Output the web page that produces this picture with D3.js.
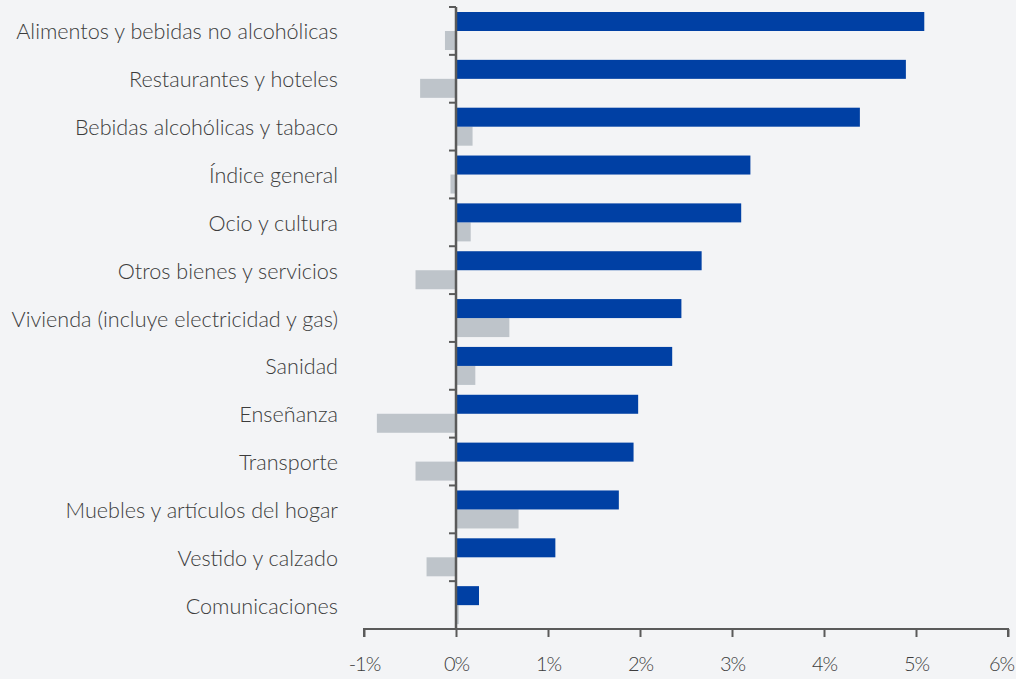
<!DOCTYPE html>
<html>
<head>
<meta charset="utf-8">
<script src="https://cdn.jsdelivr.net/npm/d3@7"></script>
<style>
  body { margin: 0; background: #f3f4f6; }
  svg { display: block; }
  text { font-family: Lato, "Open Sans", sans-serif; font-weight: 300; fill: #3c3c3c; }
</style>
</head>
<body>
<div id="chart"></div>
<script>
const categories = [
  "Alimentos y bebidas no alcohólicas",
  "Restaurantes y hoteles",
  "Bebidas alcohólicas y tabaco",
  "Índice general",
  "Ocio y cultura",
  "Otros bienes y servicios ",
  "Vivienda (incluye electricidad y gas)",
  "Sanidad",
  "Enseñanza",
  "Transporte",
  "Muebles y artículos del hogar",
  "Vestido y calzado",
  "Comunicaciones"
];
const serieAzul = [5.09, 4.89, 4.39, 3.20, 3.10, 2.67, 2.45, 2.35, 1.98, 1.93, 1.77, 1.08, 0.25];
const serieGris = [-0.12, -0.39, 0.18, -0.06, 0.16, -0.44, 0.58, 0.21, -0.86, -0.44, 0.68, -0.32, 0.03];
const xTicks = [-1, 0, 1, 2, 3, 4, 5, 6];

const width = 1016, height = 679;
const svg = d3.select("#chart").append("svg")
  .attr("width", width)
  .attr("height", height);

const x = d3.scaleLinear().domain([-1, 6]).range([364, 1008]);
const y = d3.scaleBand().domain(categories).range([7, 629]);
const step = y.step();
const bandTop = (d) => y(d);

const data = categories.map((c, i) => ({ cat: c, azul: serieAzul[i], gris: serieGris[i] }));
const barH = 19;

// barras grises (segunda serie)
svg.selectAll(".gris")
  .data(data)
  .enter()
  .append("rect")
  .attr("class", "gris")
  .attr("x", (d) => x(Math.min(0, d.gris)))
  .attr("y", (d) => bandTop(d.cat) + 5 + barH)
  .attr("width", (d) => Math.abs(x(d.gris) - x(0)))
  .attr("height", barH)
  .attr("fill", "#bec4ca");

// barras azules
svg.selectAll(".azul")
  .data(data)
  .enter()
  .append("rect")
  .attr("class", "azul")
  .attr("x", (d) => x(Math.min(0, d.azul)))
  .attr("y", (d) => bandTop(d.cat) + 5)
  .attr("width", (d) => Math.abs(x(d.azul) - x(0)))
  .attr("height", barH)
  .attr("fill", "#0040a4");

// eje x
const xAxis = svg.append("g")
  .attr("transform", "translate(0,629)")
  .call(d3.axisBottom(x).tickValues(xTicks).tickSize(8).tickPadding(20).tickFormat((d) => d + "%"));
xAxis.selectAll("path, line").attr("stroke", "#5a5a5a").attr("stroke-width", 2);
xAxis.select(".domain").attr("d", `M364,8V0H1008V8`);
xAxis.selectAll("text")
  .style("font-size", "20px")
  .style("font-family", "Lato, sans-serif")
  .style("letter-spacing", "-1px")
  .attr("fill", "#3c3c3c")
  .attr("dx", (d) => (d === 6 ? -7 : 0));

// eje y en el 0
const yTickVals = categories.map((c) => y(c));
svg.append("line")
  .attr("x1", x(0)).attr("x2", x(0))
  .attr("y1", 7).attr("y2", 629)
  .attr("stroke", "#5a5a5a").attr("stroke-width", 2.5);
svg.selectAll(".ytick")
  .data(yTickVals)
  .enter()
  .append("line")
  .attr("x1", x(0) - 7).attr("x2", x(0))
  .attr("y1", (d) => d).attr("y2", (d) => d)
  .attr("stroke", "#5a5a5a").attr("stroke-width", 2);

// etiquetas
svg.selectAll(".label")
  .data(data)
  .enter()
  .append("text")
  .attr("class", "label")
  .attr("x", 338)
  .attr("y", (d) => bandTop(d.cat) + step / 2 + 1)
  .attr("dy", "0.35em")
  .style("text-anchor", "end")
  .style("font-size", "21.6px")
  .text((d) => d.cat);
</script>
</body>
</html>
